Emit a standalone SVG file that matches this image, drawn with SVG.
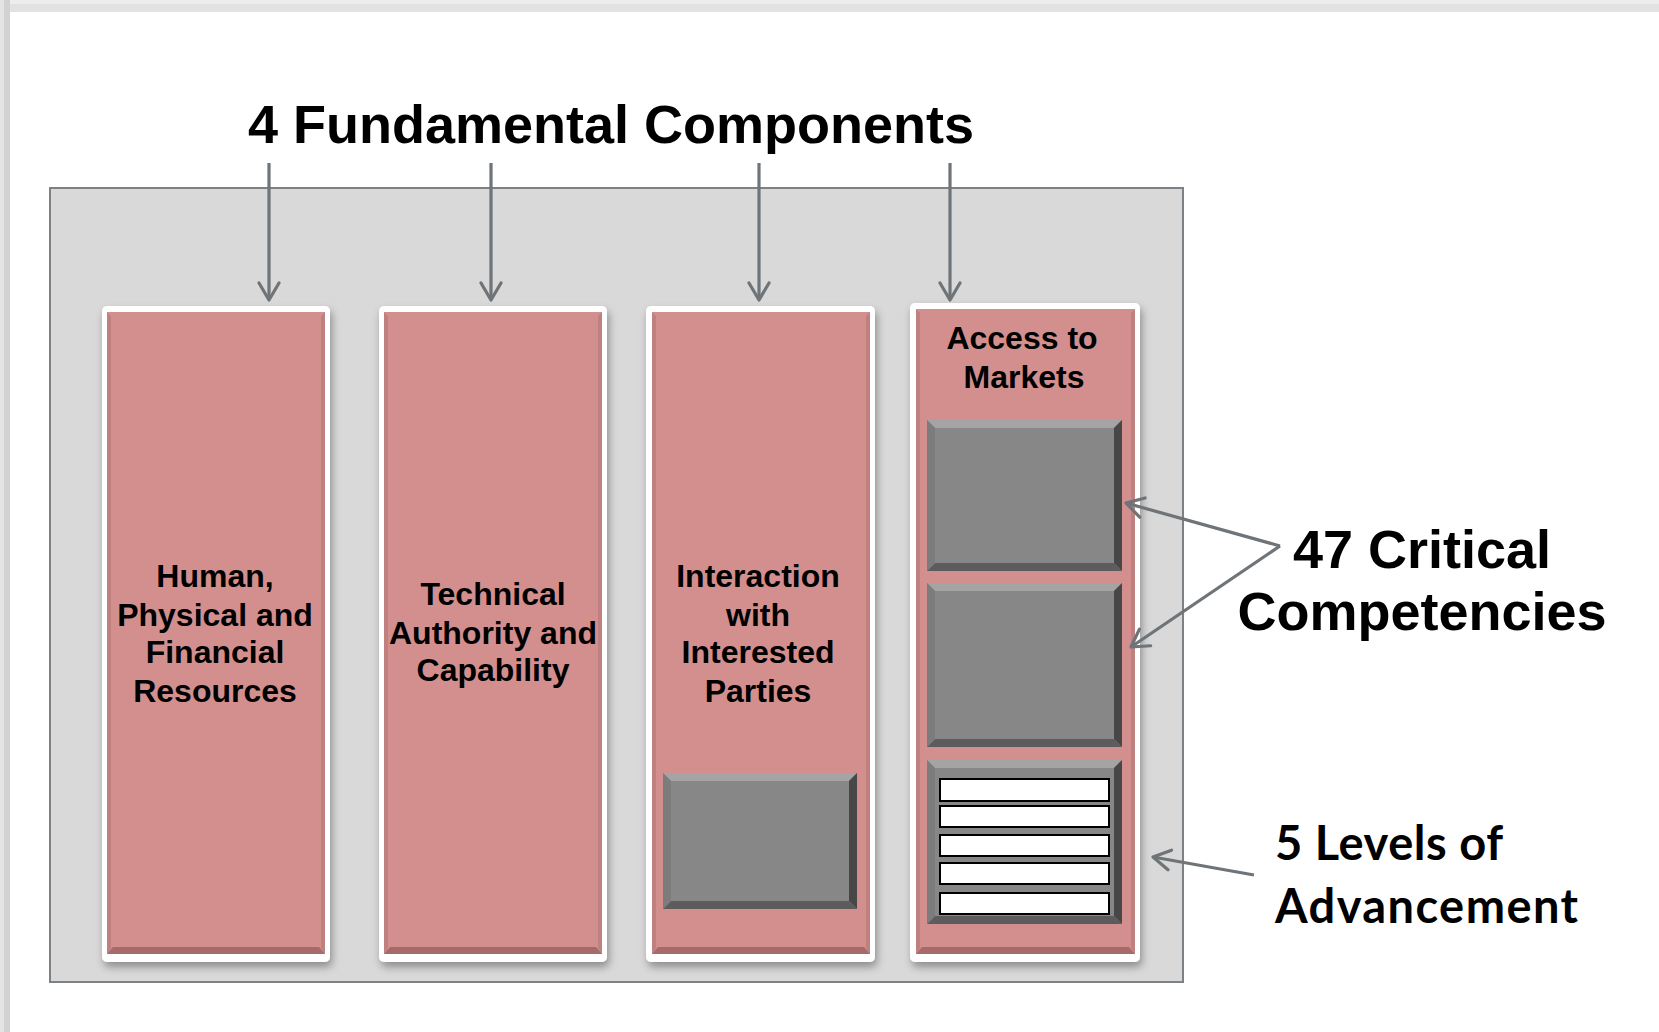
<svg xmlns="http://www.w3.org/2000/svg" width="1659" height="1032" viewBox="0 0 1659 1032">
<style>
.t{font-family:"Liberation Sans",Arial,sans-serif;font-weight:bold;fill:#000;text-anchor:middle}
.col{font-size:32px}
.big{font-size:54px}
.cal{font-family:Lato,"Open Sans",sans-serif;font-weight:bold;font-size:47px;fill:#000}
.frame{fill:#fff;filter:url(#sh)}
.pink{fill:#d28f8e}
.pb{fill:#a76a6a}
.ps{fill:#bf8180}
.gc{fill:#878787}
.gt{fill:#a4a4a4}
.gr{fill:#474747}
.gb{fill:#5c5c5c}
.gl{fill:#7c7c7c}
.bar{fill:#fff;stroke:#000;stroke-width:2}
.conn{stroke:#6e7477;stroke-width:3.2;fill:none}
</style>
<defs>
<filter id="sh" x="-10%" y="-10%" width="125%" height="125%">
<feDropShadow dx="2" dy="5" stdDeviation="4" flood-color="#000" flood-opacity="0.35"/>
</filter>
<marker id="ah" markerWidth="22" markerHeight="24" viewBox="0 0 22 24" refX="19" refY="12" orient="auto" markerUnits="userSpaceOnUse">
<path d="M2,2 L19,12 L2,22" fill="none" stroke="#6e7477" stroke-width="3.2" stroke-linecap="round" stroke-linejoin="round"/>
</marker>
</defs>
<rect x="0" y="0" width="1659" height="1032" fill="#fff"/>
<rect x="0" y="0" width="1659" height="12" fill="#e2e2e2"/>
<rect x="0" y="0" width="1659" height="4" fill="#ededed"/>
<rect x="0" y="0" width="10" height="1032" fill="#d2d2d2"/>
<rect x="0" y="0" width="4" height="1032" fill="#e4e4e4"/>

<g id="container">
<rect x="50" y="188" width="1133" height="794" fill="#d9d9d9" stroke="#7c8185" stroke-width="2"/>
</g>

<g id="title">
<text class="t big" x="611" y="143">4 Fundamental Components</text>
</g>

<g id="col1">
<rect class="frame" x="102" y="306" width="228" height="656" rx="5"/>
<rect class="pink" x="107" y="312" width="218" height="642"/>
<polygon class="ps" points="107,312 111,316 111,948 107,954"/>
<polygon class="ps" points="325,312 321,316 321,948 325,954"/>
<polygon class="pb" points="107,954 325,954 319,947 113,947"/>
<text class="t col" x="215" y="587">Human,</text>
<text class="t col" x="215" y="626">Physical and</text>
<text class="t col" x="215" y="663">Financial</text>
<text class="t col" x="215" y="702">Resources</text>
</g>

<g id="col2">
<rect class="frame" x="379" y="306" width="228" height="656" rx="5"/>
<rect class="pink" x="384" y="312" width="218" height="642"/>
<polygon class="ps" points="384,312 388,316 388,948 384,954"/>
<polygon class="ps" points="602,312 598,316 598,948 602,954"/>
<polygon class="pb" points="384,954 602,954 596,947 390,947"/>
<text class="t col" x="493" y="605">Technical</text>
<text class="t col" x="493" y="644">Authority and</text>
<text class="t col" x="493" y="681">Capability</text>
</g>

<g id="col3">
<rect class="frame" x="646" y="306" width="229" height="656" rx="5"/>
<rect class="pink" x="652" y="312" width="218" height="642"/>
<polygon class="ps" points="652,312 656,316 656,948 652,954"/>
<polygon class="ps" points="870,312 866,316 866,948 870,954"/>
<polygon class="pb" points="652,954 870,954 864,947 658,947"/>
<text class="t col" x="758" y="587">Interaction</text>
<text class="t col" x="758" y="626">with</text>
<text class="t col" x="758" y="663">Interested</text>
<text class="t col" x="758" y="702">Parties</text>
<g id="col3-box">
<rect class="gc" x="663" y="773" width="194" height="136"/>
<polygon class="gt" points="663,773 857,773 849,781 671,781"/>
<polygon class="gr" points="857,773 857,909 849,901 849,781"/>
<polygon class="gb" points="663,909 857,909 849,901 671,901"/>
<polygon class="gl" points="663,773 671,781 671,901 663,909"/>
</g>
</g>

<g id="col4">
<rect class="frame" x="910" y="303" width="230" height="659" rx="5"/>
<rect class="pink" x="916" y="309" width="219" height="645"/>
<polygon class="ps" points="916,309 920,313 920,948 916,954"/>
<polygon class="ps" points="1135,309 1131,313 1131,948 1135,954"/>
<polygon class="pb" points="916,954 1135,954 1129,947 922,947"/>
<text class="t col" x="1022" y="349">Access to</text>
<text class="t col" x="1024" y="388">Markets</text>
<g id="comp1">
<rect class="gc" x="927" y="420" width="195" height="151"/>
<polygon class="gt" points="927,420 1122,420 1114,428 935,428"/>
<polygon class="gr" points="1122,420 1122,571 1114,563 1114,428"/>
<polygon class="gb" points="927,571 1122,571 1114,563 935,563"/>
<polygon class="gl" points="927,420 935,428 935,563 927,571"/>
</g>
<g id="comp2">
<rect class="gc" x="927" y="583" width="195" height="164"/>
<polygon class="gt" points="927,583 1122,583 1114,591 935,591"/>
<polygon class="gr" points="1122,583 1122,747 1114,739 1114,591"/>
<polygon class="gb" points="927,747 1122,747 1114,739 935,739"/>
<polygon class="gl" points="927,583 935,591 935,739 927,747"/>
</g>
<g id="comp3">
<rect class="gc" x="927" y="760" width="195" height="164"/>
<polygon class="gt" points="927,760 1122,760 1114,768 935,768"/>
<polygon class="gr" points="1122,760 1122,924 1114,916 1114,768"/>
<polygon class="gb" points="927,924 1122,924 1114,916 935,916"/>
<polygon class="gl" points="927,760 935,768 935,916 927,924"/>
<rect class="bar" x="940" y="779" width="169" height="22"/>
<rect class="bar" x="940" y="806" width="169" height="21"/>
<rect class="bar" x="940" y="835" width="169" height="21"/>
<rect class="bar" x="940" y="863" width="169" height="21"/>
<rect class="bar" x="940" y="893" width="169" height="21"/>
</g>
</g>

<g id="label47">
<text class="t big" x="1422" y="568">47 Critical</text>
<text class="t big" x="1422" y="630">Competencies</text>
</g>

<g id="label5">
<text class="cal" x="1275" y="860" textLength="228">5 Levels of</text>
<text class="cal" x="1275" y="923" textLength="303">Advancement</text>
</g>

<g id="connectors">
<line class="conn" x1="269" y1="163" x2="269" y2="300" marker-end="url(#ah)"/>
<line class="conn" x1="491" y1="163" x2="491" y2="300" marker-end="url(#ah)"/>
<line class="conn" x1="759" y1="163" x2="759" y2="300" marker-end="url(#ah)"/>
<line class="conn" x1="950" y1="163" x2="950" y2="300" marker-end="url(#ah)"/>
<line class="conn" x1="1280" y1="546" x2="1126" y2="503" marker-end="url(#ah)"/>
<line class="conn" x1="1280" y1="546" x2="1131" y2="647" marker-end="url(#ah)"/>
<line class="conn" x1="1254" y1="875" x2="1153" y2="857" marker-end="url(#ah)"/>
</g>
</svg>
